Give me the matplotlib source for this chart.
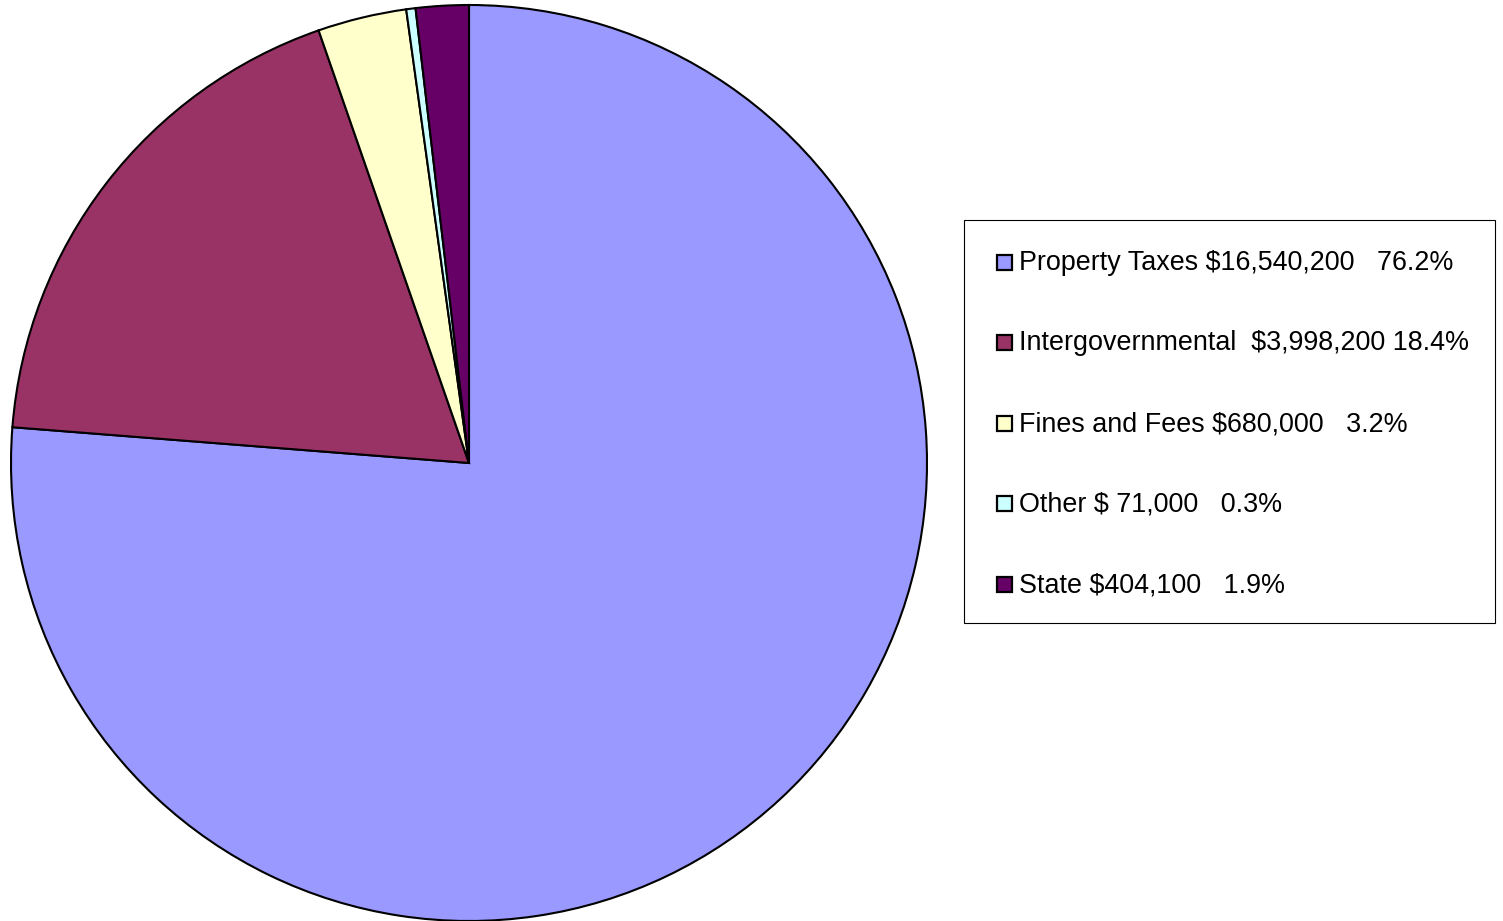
import matplotlib
matplotlib.use("Agg")
import matplotlib.pyplot as plt
from matplotlib.patches import Rectangle

categories = ["Property Taxes", "Intergovernmental", "Fines and Fees", "Other", "State"]
values = [16540200, 3998200, 680000, 71000, 404100]
labels = ["Property Taxes $16,540,200   76.2%",
          "Intergovernmental  $3,998,200 18.4%",
          "Fines and Fees $680,000   3.2%",
          "Other $ 71,000   0.3%",
          "State $404,100   1.9%"]
colors = ["#9999FF", "#993366", "#FFFFCC", "#CCFFFF", "#660066"]

W, H = 1503, 921
fig = plt.figure(figsize=(W / 100, H / 100), dpi=100)
plt.rcParams['font.family'] = ['Liberation Sans', 'DejaVu Sans']

cx, cy, r = 469, 463, 458
ax = fig.add_axes([(cx - r) / W, (H - cy - r) / H, 2 * r / W, 2 * r / H])
ax.pie(values, colors=colors, startangle=90, counterclock=False,
       wedgeprops=dict(edgecolor="black", linewidth=1.5), radius=1.0)
ax.set_xlim(-1, 1)
ax.set_ylim(-1, 1)
ax.set_aspect("equal")
ax.axis("off")

def fx(px):
    return px / W

def fy(py):
    return 1 - py / H

# legend box
x0, y0, x1, y1 = 964, 220, 1495, 623
fig.patches.append(Rectangle((fx(x0), fy(y1)), fx(x1) - fx(x0), fy(y0) - fy(y1),
                             transform=fig.transFigure, facecolor="white",
                             edgecolor="black", linewidth=0.8))
baselines = [270, 350, 431, 511, 592]
sq = 15
for lab, col, yy in zip(labels, colors, baselines):
    fig.patches.append(Rectangle((fx(996.5), fy(yy)), sq / W, sq / H,
                                 transform=fig.transFigure, facecolor=col,
                                 edgecolor="black", linewidth=1.6))
    fig.text(fx(1019), fy(yy), lab, fontsize=19.4, va="baseline", ha="left",
             color="black")

fig.savefig("out.png", dpi=100)
